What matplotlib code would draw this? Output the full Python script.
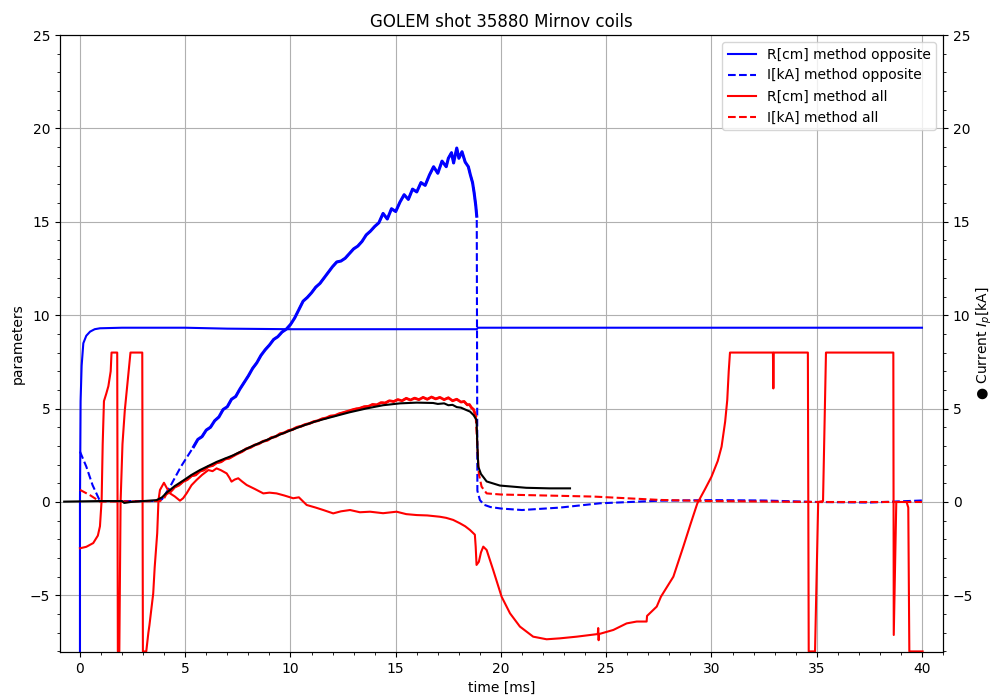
import numpy as np
import matplotlib
matplotlib.use("Agg")
import matplotlib.pyplot as plt
from matplotlib.ticker import MultipleLocator

# ---- GOLEM shot 35880, Mirnov coil plasma position / current estimates ----

# Plasma position R[cm], method "opposite"
t_R_opp = [0.0, 0.0, 0.03, 0.08, 0.16, 0.3, 0.48, 0.7, 0.95, 2.0, 5.0, 7.0,
           10.0, 15.0, 18.85, 18.9, 25.0, 30.0, 35.0, 40.0]
R_opp = [-8.0, 0.0, 5.4, 7.3, 8.5, 8.9, 9.12, 9.25, 9.3, 9.33, 9.33, 9.28,
         9.25, 9.25, 9.25, 9.33, 9.33, 9.33, 9.33, 9.33]

# Plasma current I[kA], method "opposite"
t_I_opp = [0.0, 0.3, 0.6, 0.95, 2.0, 3.0, 3.7, 3.9, 4.28, 4.8,
           5.4, 5.6, 5.8, 6.0, 6.2, 6.4, 6.6, 6.8, 7.0, 7.2, 7.4, 7.6, 7.8,
           8.0, 8.2, 8.4, 8.6, 8.8, 9.0, 9.2, 9.4, 9.6, 9.8, 10.0, 10.2,
           10.4, 10.6, 10.8, 11.0, 11.2, 11.4, 11.6, 11.8, 12.0, 12.2, 12.4,
           12.6, 12.8, 13.0, 13.2, 13.4, 13.6, 13.8, 14.0, 14.2, 14.4, 14.6,
           14.8, 15.0, 15.2, 15.4, 15.6, 15.8, 16.0, 16.2, 16.4, 16.6, 16.8,
           17.0, 17.2, 17.4, 17.5, 17.65, 17.75, 17.9, 18.0, 18.15, 18.3,
           18.45, 18.55, 18.65, 18.72, 18.8, 18.85,
           18.88, 19.0, 19.2, 19.5, 20.0, 21.0, 22.8, 24.7, 27.55, 30.0,
           32.5, 35.0, 37.5, 40.0]
I_opp = [2.7, 1.9, 0.9, 0.05, 0.05, 0.05, 0.05, 0.15, 0.82, 1.9,
         2.96, 3.35, 3.5, 3.85, 4.0, 4.35, 4.55, 4.95, 5.1, 5.5, 5.65, 6.05,
         6.4, 6.75, 7.15, 7.45, 7.85, 8.15, 8.4, 8.7, 8.85, 9.1, 9.25, 9.5,
         9.85, 10.3, 10.75, 10.95, 11.2, 11.5, 11.7, 12.0, 12.3, 12.6, 12.85,
         12.9, 13.05, 13.3, 13.55, 13.7, 13.95, 14.3, 14.5, 14.75, 14.95,
         15.45, 15.15, 15.7, 15.55, 16.05, 16.45, 16.2, 16.75, 16.6, 17.1,
         16.95, 17.5, 17.95, 17.6, 18.25, 17.95, 18.4, 18.7, 18.15, 18.95,
         18.4, 18.75, 18.2, 17.95, 17.5, 17.1, 16.6, 15.9, 15.3,
         0.6, 0.1, -0.15, -0.27, -0.35, -0.43, -0.3, -0.07, 0.07, 0.1,
         0.08, 0.0, -0.03, 0.08]

# Plasma position R[cm], method "all" (saturates at +/-8)
t_R_all = [0.0, 0.3, 0.63, 0.85, 0.95, 1.03, 1.08, 1.14, 1.25, 1.35, 1.46,
           1.5, 1.77, 1.8, 1.87, 1.93, 2.02, 2.13, 2.25, 2.4, 2.96, 2.99,
           3.15, 3.25, 3.3, 3.48, 3.55, 3.67, 3.73, 3.8, 3.99, 4.1, 4.28,
           4.5, 4.75, 4.9, 5.07, 5.3, 5.54, 5.8, 6.1, 6.3, 6.49, 6.7, 6.97,
           7.1, 7.2, 7.35, 7.52, 7.7, 7.92, 8.3, 8.71, 9.0, 9.34, 9.7, 10.13,
           10.4, 10.77, 11.2, 11.56, 12.03, 12.4, 12.83, 13.3, 13.78, 14.4,
           15.04, 15.5, 16.0, 16.5, 17.1, 17.4, 17.73, 18.05, 18.3, 18.53,
           18.76, 18.8, 18.84, 18.95, 19.05, 19.16, 19.32, 19.63, 20.03,
           20.43, 20.9, 21.53, 22.17, 22.8, 23.6, 24.6, 24.62, 24.64, 24.66,
           25.34, 25.97, 26.45, 26.92, 26.94, 27.4, 27.6, 28.19, 28.66, 29.0,
           29.33, 29.7, 30.0, 30.3, 30.48, 30.65, 30.75, 30.82, 30.88, 32.92,
           32.94, 32.96, 34.58, 34.62, 34.92, 35.07, 35.3, 35.44, 38.64,
           38.66, 38.78, 39.27, 39.35, 39.4, 40.03]
R_all = [-2.48, -2.4, -2.2, -1.8, -1.3, 0.1, 3.1, 5.4, 5.8, 6.2, 7.0,
         8.0, 8.0, -8.0, -8.0, 0.0, 3.1, 4.9, 6.3, 8.0, 8.0, -8.0,
         -8.0, -7.0, -6.6, -4.9, -3.5, -1.67, 0.1, 0.64, 1.03, 0.8, 0.46,
         0.3, 0.07, 0.2, 0.47, 0.9, 1.18, 1.45, 1.71, 1.65, 1.8, 1.7, 1.53,
         1.3, 1.09, 1.2, 1.27, 1.1, 0.91, 0.7, 0.46, 0.5, 0.46, 0.35, 0.2,
         0.25, -0.16, -0.3, -0.43, -0.61, -0.5, -0.43, -0.55, -0.52, -0.6,
         -0.52, -0.65, -0.7, -0.72, -0.79, -0.85, -0.96, -1.14, -1.3, -1.5,
         -1.75, -2.4, -3.37, -3.2, -2.7, -2.39, -2.57, -3.64, -5.07,
         -5.96, -6.67, -7.21, -7.35, -7.3, -7.21, -7.07, -6.75, -7.4, -7.07,
         -6.85, -6.5, -6.4, -6.4, -6.1, -5.6, -5.07, -4.0, -2.4, -1.2,
         -0.07, 0.7, 1.35, 2.2, 2.96, 4.3, 5.46, 7.0, 8.0, 8.0,
         6.08, 8.0, 8.0, -8.0, -8.0, 0.0, 0.05, 8.0, 8.0,
         -7.12, 0.0, 0.0, -0.3, -8.0, -8.0]

# Plasma current I[kA], method "all"
t_I_all = [0.0, 0.5, 0.95, 2.0, 3.8, 4.0, 4.1, 4.3, 4.5, 4.7, 4.9, 5.1,
           5.3, 5.5, 5.7, 5.9, 6.1, 6.3, 6.5, 6.7, 6.9, 7.1, 7.3, 7.5, 7.7,
           7.9, 8.1, 8.3, 8.5, 8.7, 8.9, 9.1, 9.3, 9.5, 9.7, 9.9, 10.1,
           10.3, 10.5, 10.7, 10.9, 11.1, 11.3, 11.5, 11.7, 11.9, 12.1, 12.3,
           12.5, 12.7, 12.9, 13.1, 13.3, 13.5, 13.7, 13.9, 14.1, 14.3, 14.5,
           14.7, 14.9, 15.1, 15.3, 15.5, 15.7, 15.9, 16.1, 16.3, 16.5, 16.7,
           16.9, 17.1, 17.3, 17.5, 17.7, 17.9, 18.1, 18.25, 18.4, 18.5,
           18.6, 18.7, 18.8, 18.88, 18.95, 19.08, 19.32, 20.0, 21.2, 24.4,
           27.55, 30.0, 35.0, 40.0]
I_all = [0.65, 0.35, 0.02, 0.03, 0.05, 0.2, 0.4, 0.55, 0.8, 0.9, 1.1, 1.2,
         1.4, 1.45, 1.65, 1.72, 1.9, 1.95, 2.1, 2.15, 2.3, 2.35, 2.48, 2.6,
         2.7, 2.85, 2.92, 3.05, 3.12, 3.25, 3.3, 3.45, 3.5, 3.65, 3.7, 3.82,
         3.88, 4.0, 4.05, 4.15, 4.2, 4.3, 4.35, 4.45, 4.5, 4.6, 4.62, 4.72,
         4.78, 4.85, 4.92, 4.98, 5.02, 5.1, 5.12, 5.22, 5.2, 5.32, 5.3,
         5.42, 5.38, 5.48, 5.42, 5.55, 5.46, 5.56, 5.48, 5.6, 5.5, 5.62,
         5.52, 5.6, 5.48, 5.58, 5.42, 5.5, 5.35, 5.38, 5.2, 5.22, 5.05,
         4.95, 4.6, 3.0, 1.5, 0.82, 0.46, 0.4, 0.37, 0.29,
         0.11, 0.05, 0.0, 0.0]

# Plasma current Ip [kA] (right axis)
t_Ip = [-0.75, 0.95, 2.0, 2.1, 2.4, 3.64, 3.9, 4.12, 4.5, 4.91, 5.3, 5.7,
        6.5, 7.28, 8.1, 8.87, 9.7, 10.45, 11.2, 12.03, 12.8, 13.62, 14.4,
        15.2, 16.0, 16.78, 17.0, 17.3, 17.5, 17.7, 17.9, 18.1, 18.3, 18.53,
        18.7, 18.84, 18.88, 18.92, 19.05, 19.32, 19.95, 21.2, 22.3, 23.28]
Ip = [0.02, 0.05, 0.05, -0.05, 0.0, 0.1, 0.25, 0.5, 0.85, 1.15, 1.45, 1.71,
      2.15, 2.5, 2.95, 3.32, 3.7, 4.03, 4.32, 4.57, 4.8, 5.01, 5.18,
      5.28, 5.32, 5.3, 5.25, 5.28, 5.18, 5.2, 5.08, 5.05, 4.95, 4.84,
      4.65, 4.39, 3.0, 1.9, 1.5, 1.1, 0.88, 0.76, 0.73, 0.73]

fig = plt.figure(figsize=(9.96, 6.95), dpi=100)
ax = fig.add_subplot(111)
fig.subplots_adjust(left=0.0602, right=0.9468, bottom=0.0619, top=0.9496)

ax.plot(t_R_opp, R_opp, color="blue", lw=1.5, label="R[cm] method opposite")
ax.plot(t_I_opp, I_opp, color="blue", lw=1.5, ls="--", label="I[kA] method opposite")
ax.plot(t_R_all, R_all, color="red", lw=1.5, label="R[cm] method all")
ax.plot(t_I_all, I_all, color="red", lw=1.5, ls="--", label="I[kA] method all")

# the noisy stretches of the current traces render as a continuous band
ti = np.array(t_I_opp); vi = np.array(I_opp)
m = (ti >= 5.4) & (ti <= 18.85)
ax.plot(ti[m], vi[m], color="blue", lw=2.2)
ta = np.array(t_I_all); va = np.array(I_all)
m = (ta >= 4.3) & (ta <= 18.8)
ax.plot(ta[m], va[m], color="red", lw=2.0)

ax.set_xlim(-0.95, 41.0)
ax.set_ylim(-8.03, 25)
ax.xaxis.set_minor_locator(MultipleLocator(1))
ax.yaxis.set_minor_locator(MultipleLocator(1))
ax.grid(True, which="major", color="#b0b0b0", lw=0.8)
ax.set_xlabel("time [ms]")
ax.set_ylabel("parameters")
ax.set_title("GOLEM shot 35880 Mirnov coils")
ax.legend(loc="upper right")

ax2 = ax.twinx()
ax2.plot(t_Ip, Ip, color="black", lw=1.5)
ax2.set_ylim(-8.03, 25)
ax2.yaxis.set_minor_locator(MultipleLocator(1))
ax2.set_ylabel("\u25cf Current $I_p$[kA]", labelpad=1)

fig.savefig("out.png", dpi=100)
